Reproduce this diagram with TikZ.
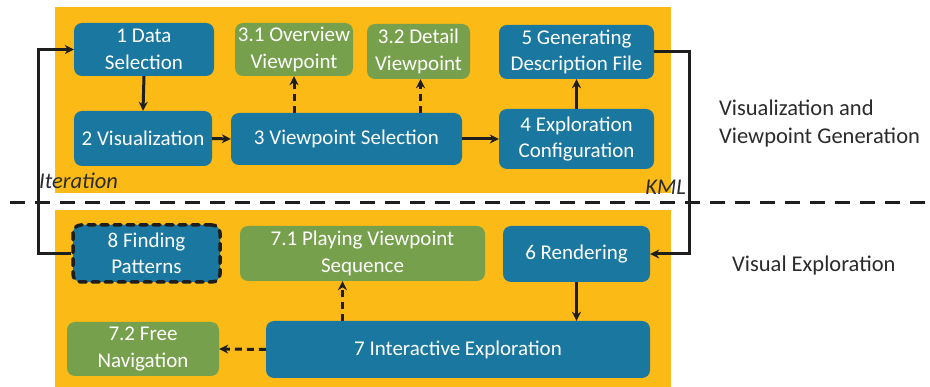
\documentclass[tikz,border=0pt]{standalone}
\usepackage{fontspec}
\setmainfont{Carlito}
\usetikzlibrary{arrows.meta}
\definecolor{panel}{HTML}{FBBA16}
\definecolor{stepblue}{HTML}{1A77A0}
\definecolor{stepgreen}{HTML}{77A04D}
\definecolor{ink}{HTML}{1E1E1E}
\definecolor{labelgray}{HTML}{2B2B2B}
\tikzset{
  base/.style={rounded corners=8pt, text=white, align=center,
    inner sep=0pt, font=\fontsize{21}{26.5}\selectfont},
  bluebox/.style={base, fill=stepblue},
  greenbox/.style={base, fill=stepgreen},
  flow/.style={draw=ink, line width=3pt, -{Stealth[length=9pt,width=9pt]}},
  optflow/.style={flow, dash pattern=on 7pt off 5pt},
  side/.style={text=labelgray, align=left, inner sep=0pt,
    font=\fontsize{22.5}{28}\selectfont},
  tag/.style={text=labelgray, inner sep=0pt, font=\fontsize{22.5}{24}\selectfont\itshape}
}
\begin{document}
\begin{tikzpicture}[x=1pt, y=-1pt]
\useasboundingbox (0,0) rectangle (930,387);
\fill[white] (0,0) rectangle (930,387);

% background panels of the two stages
\fill[panel] (55,7) rectangle (671,193);
\fill[panel] (55,210) rectangle (671,387);

% stage 1: visualization and viewpoint generation
\node[bluebox, minimum width=140pt, minimum height=53pt] (n1) at (144,49.5) {1 Data\\Selection};
\node[greenbox, minimum width=118pt, minimum height=53pt] (n31) at (294,49.5) {3.1 Overview\\Viewpoint};
\node[greenbox, minimum width=103pt, minimum height=55pt] (n32) at (418.5,51.5) {3.2 Detail\\Viewpoint};
\node[bluebox, minimum width=155pt, minimum height=54pt] (n5) at (576.5,52) {5 Generating\\Description File};
\node[bluebox, minimum width=138pt, minimum height=55pt] (n2) at (143,138.5) {2 Visualization};
\node[bluebox, minimum width=231pt, minimum height=52pt] (n3) at (346.5,139) {3 Viewpoint Selection};
\node[bluebox, minimum width=155pt, minimum height=60pt] (n4) at (576.5,139) {4 Exploration\\Configuration};

% stage 2: visual exploration
\node[bluebox, minimum width=147pt, minimum height=57pt, draw=ink, line width=3.5pt,
  line cap=round, dash pattern=on 7pt off 6pt] (n8) at (146.5,253.5) {8 Finding\\Patterns};
\node[greenbox, minimum width=245pt, minimum height=55pt] (n71) at (362.5,253.5) {7.1 Playing Viewpoint\\Sequence};
\node[bluebox, minimum width=147pt, minimum height=56pt] (n6) at (576.5,254) {6 Rendering};
\node[greenbox, minimum width=152pt, minimum height=54pt] (n72) at (143,349) {7.2 Free\\Navigation};
\node[bluebox, minimum width=384pt, minimum height=57pt] (n7) at (458,349.5) {7 Interactive Exploration};

% stage separator
\draw[ink, line width=3pt, dash pattern=on 15pt off 10pt] (10,203) -- (925,203);

% connectors
\coordinate (loop) at (38,253.5);
\coordinate (kmlturn) at (689,52);
\draw[flow] (n8.west) -- (loop) |- (n1.west);
\draw[flow] (n1.south) -- (n2.north);
\draw[flow] (n2.east) -- (n3.west);
\draw[optflow] (n31.south |- n3.north) -- (n31.south);
\draw[optflow] ([xshift=2pt]n32.south |- n3.north) -- ([xshift=2pt]n32.south);
\draw[flow] (n3.east) -- (n4.west);
\draw[flow] (n4.north) -- (n5.south);
\draw[flow] (n5.east) -- (kmlturn) |- (n6.east);
\draw[flow] (n6.south) -- (n6.south |- n7.north);
\draw[optflow] ([xshift=-20pt]n71.south |- n7.north) -- ([xshift=-20pt]n71.south);
\draw[optflow] (n7.west) -- (n72.east);

% annotations
\node[tag, anchor=west] (iter) at (39,181) {Iteration};
\node[tag, anchor=east] (kml) at (686,187) {KML};
\node[side, anchor=west] (stage1) at (719,124) {Visualization and\\Viewpoint Generation};
\node[side, anchor=west] (stage2) at (732,266) {Visual Exploration};
\end{tikzpicture}
\end{document}
